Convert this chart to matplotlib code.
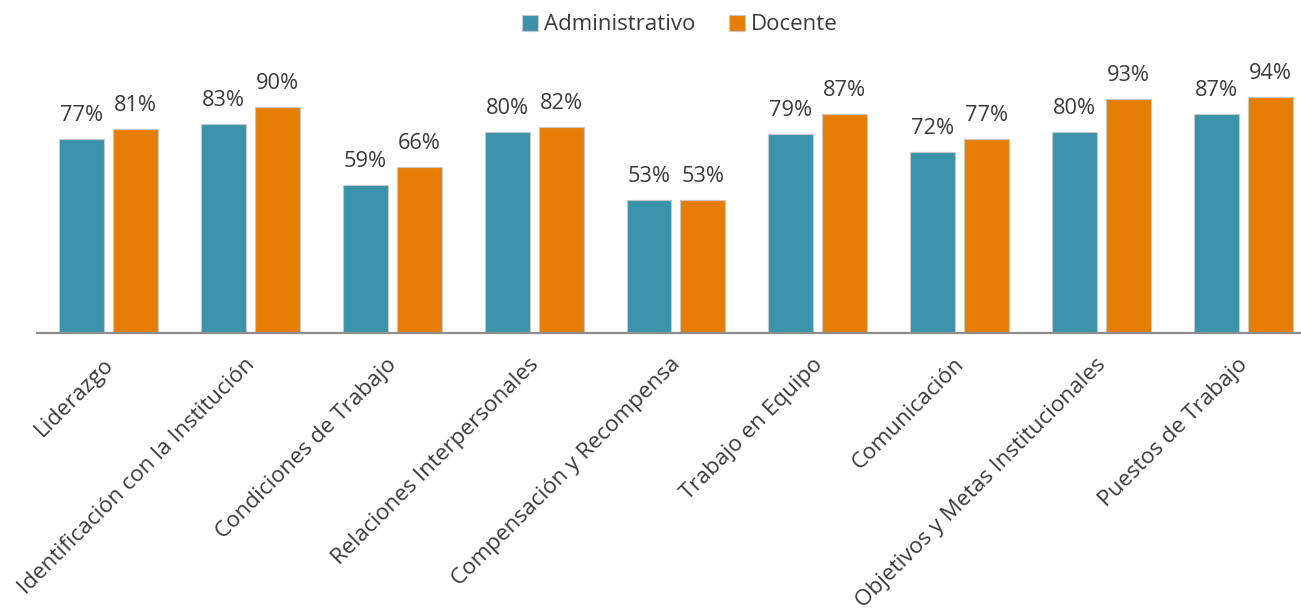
import matplotlib.pyplot as plt
import matplotlib.transforms as mtransforms
import numpy as np

plt.rcParams['font.family'] = ['Open Sans', 'DejaVu Sans']

categorias = ['Liderazgo', 'Identificación con la Institución', 'Condiciones de Trabajo',
              'Relaciones Interpersonales', 'Compensación y Recompensa', 'Trabajo en Equipo',
              'Comunicación', 'Objetivos y Metas Institucionales', 'Puestos de Trabajo']
administrativo = [77, 83, 59, 80, 53, 79, 72, 80, 87]
docente = [81, 90, 66, 82, 53, 87, 77, 93, 94]

c_admin = '#3A93AA'
c_doc = '#E67E06'
c_text = '#3a3a3a'

fig = plt.figure(figsize=(13.01, 6.12), dpi=100)
ax = fig.add_axes([37 / 1301, 279 / 612, 1264 / 1301, 283 / 612])

x = np.arange(len(categorias))
w = 0.317
off = 0.19
b1 = ax.bar(x - off, administrativo, w, color=c_admin, edgecolor='#c8c8c8', linewidth=0.8,
            label='Administrativo')
b2 = ax.bar(x + off, docente, w, color=c_doc, edgecolor='#c8c8c8', linewidth=0.8,
            label='Docente')

for bars, vals in ((b1, administrativo), (b2, docente)):
    for r, v in zip(bars, vals):
        ax.annotate(f'{v}%', (r.get_x() + r.get_width() / 2, v), xytext=(0, 13),
                    textcoords='offset points', ha='center', va='baseline',
                    fontsize=15.7, color=c_text)

ax.set_xlim(-0.506, 8.408)
ax.set_ylim(0, 283 / 2.515)
ax.set_yticks([])
ax.set_xticks(x)
ax.set_xticklabels(categorias, rotation=45, ha='right', va='top', rotation_mode='anchor',
                   fontsize=16.2, color=c_text)
ax.tick_params(axis='x', length=0, pad=15)
# nudge the rotated labels a little to the left
shift = mtransforms.ScaledTranslation(-6 / 100, 0, fig.dpi_scale_trans)
for lab in ax.get_xticklabels():
    lab.set_transform(lab.get_transform() + shift)
for s in ('top', 'right', 'left'):
    ax.spines[s].set_visible(False)
ax.spines['bottom'].set_color('#8c8c8c')
ax.spines['bottom'].set_linewidth(1.6)

leg = fig.legend(handles=[b1, b2], loc='center', bbox_to_anchor=(680 / 1301, 1 - 25 / 612),
                 ncol=2, frameon=False, fontsize=16, handlelength=0.7, handleheight=0.7,
                 handletextpad=0.3, columnspacing=1.5)
for t in leg.get_texts():
    t.set_color(c_text)

fig.savefig('out.png', dpi=100)
